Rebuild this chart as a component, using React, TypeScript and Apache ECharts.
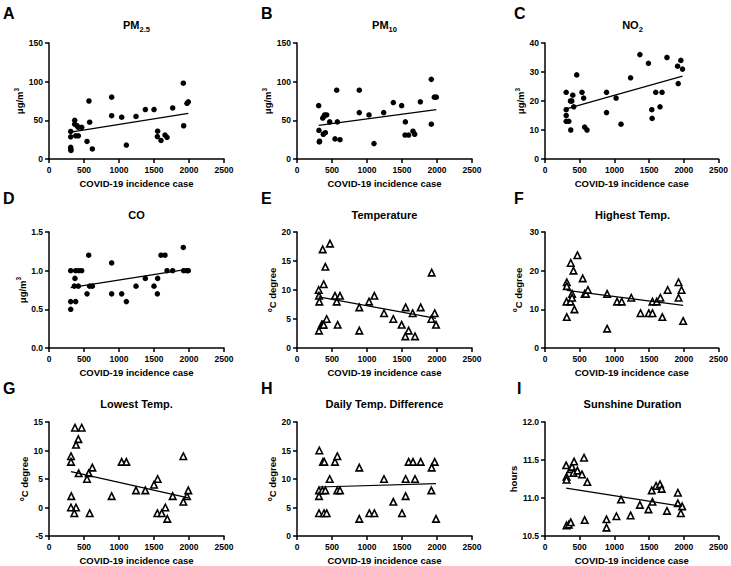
import React, { useEffect, useRef } from "react";
import * as echarts from "echarts";

const FONT = "'Liberation Sans', Arial, Helvetica, sans-serif";

const xMin = 0;
const xMax = 2500;
const xInterval = 500;
const xName = "COVID-19 incidence case";

const letters = ["A", "B", "C", "D", "E", "F", "G", "H", "I"];
const titles = ["{m|PM}{sub|2.5}", "{m|PM}{sub|10}", "{m|NO}{sub|2}", "{m|CO}", "{m|Temperature}", "{m|Highest Temp.}", "{m|Lowest Temp.}", "{m|Daily Temp. Difference}", "{m|Sunshine Duration}"];
const yNames = ["{m|μg/m}{sup|3}", "{m|μg/m}{sup|3}", "{m|μg/m}{sup|3}", "{m|μg/m}{sup|3}", "{sup|o}{m|C degree}", "{sup|o}{m|C degree}", "{sup|o}{m|C degree}", "{sup|o}{m|C degree}", "{m|hours}"];
const yMins = [0, 0, 0, 0, 0, 0, -5, 0, 10.5];
const yMaxs = [150, 150, 40, 1.5, 20, 30, 15, 20, 12.0];
const yIntervals = [50, 50, 10, 0.5, 5, 10, 5, 5, 0.5];
const yDecimals = [0, 0, 0, 1, 0, 0, 0, 0, 1];
const markers = ["circle", "circle", "circle", "circle", "triangle", "triangle", "triangle", "triangle", "triangle"];

const pm25Points = [[310,35.6],[310,28.7],[310,15],[310,13],[314,11],[367,50],[367,45],[400,43],[419,41],[467,41],[381,30],[419,30],[543,22.7],[571,75],[581,47.6],[619,13],[895,80],[895,56],[1038,54],[1105,18],[1243,55],[1376,64],[1500,64],[1552,36],[1548,29],[1600,24],[1657,31],[1686,28],[1767,66],[1919,98],[1924,43],[1971,72],[1990,74]];
const pm10Points = [[310,69],[314,37],[319,22],[322,23],[367,53],[386,55],[395,57],[424,57],[376,32],[405,34],[467,48],[543,26],[567,89],[576,48],[614,25],[890,89],[890,60],[1029,57],[1100,20],[1238,60],[1376,73],[1495,69],[1548,48],[1543,31],[1595,31],[1657,36],[1681,32],[1762,74],[1919,103],[1919,45],[1962,80],[1990,80]];
const no2Points = [[305,23],[305,17],[305,15],[305,13],[343,13],[367,20],[386,20],[371,10],[400,22],[414,18],[457,29],[533,23],[557,21],[571,11],[605,10],[886,23],[886,16],[1024,21],[1095,12],[1233,28],[1367,36],[1490,33],[1538,17],[1543,14],[1595,23],[1657,18],[1686,23],[1757,35],[1910,32],[1919,26],[1957,34],[1981,31]];
const coPoints = [[310,1.0],[310,0.6],[310,0.5],[362,0.8],[371,0.9],[381,1.0],[381,0.6],[419,0.8],[428,1.0],[467,1.0],[543,0.7],[567,1.2],[581,0.8],[619,0.8],[895,1.1],[895,0.7],[1038,0.7],[1105,0.6],[1243,0.8],[1376,0.9],[1500,0.8],[1552,0.9],[1548,0.7],[1600,1.2],[1657,1.2],[1686,1.0],[1767,1.0],[1919,1.3],[1924,1.0],[1971,1.0],[1990,1.0]];
const tempPoints = [[310,10],[314,9],[319,8],[314,3],[352,4],[367,4],[381,4],[367,17],[381,11],[405,14],[424,5],[471,18],[543,9],[567,8],[581,4],[614,9],[890,7],[890,3],[1029,8],[1105,9],[1243,6],[1376,5],[1495,4],[1552,7],[1548,2],[1595,3],[1652,6],[1686,2],[1767,7],[1924,13],[1919,5],[1967,6],[1986,4]];
const highTempPoints = [[314,17],[314,16],[310,12],[314,8],[367,12],[371,22],[390,14],[390,13],[410,20],[424,10],[467,24],[543,18],[571,14],[590,14],[619,15],[895,14],[895,5],[1038,12],[1105,12],[1243,13],[1376,9],[1495,9],[1548,9],[1548,12],[1610,12],[1662,13],[1690,8],[1767,15],[1924,17],[1924,13],[1967,15],[1990,7]];
const lowTempPoints = [[314,9],[314,8],[319,2],[314,0],[371,14],[467,14],[419,12],[386,11],[424,6],[386,0],[362,-1],[543,5],[567,6],[619,7],[581,-1],[895,2],[1038,8],[1105,8],[1243,3],[1376,3],[1500,4],[1552,5],[1548,-1],[1610,-1],[1662,0],[1690,-2],[1767,2],[1919,9],[1919,1],[1971,2],[1990,3]];
const diffTempPoints = [[319,15],[314,8],[314,7],[314,4],[371,13],[390,13],[362,8],[405,8],[386,4],[424,4],[467,10],[543,13],[576,14],[576,8],[614,8],[890,12],[890,3],[1033,4],[1105,4],[1243,10],[1376,6],[1500,4],[1552,10],[1552,7],[1595,13],[1657,13],[1686,10],[1767,13],[1924,12],[1919,8],[1967,13],[1986,3]];
const sunPoints = [[305,11.43],[310,11.28],[310,11.24],[310,10.64],[343,10.65],[371,10.68],[367,11.38],[390,11.41],[410,11.33],[419,11.48],[467,11.36],[533,11.31],[562,11.53],[571,10.71],[610,11.21],[886,10.72],[886,10.61],[1029,10.76],[1095,10.98],[1233,10.77],[1367,10.91],[1490,10.85],[1538,11.10],[1548,10.95],[1600,11.16],[1657,11.18],[1681,11.12],[1757,10.83],[1914,11.07],[1914,10.93],[1957,10.80],[1976,10.89]];

const pm25Trend = [[310,34.7],[1990,59]];
const pm10Trend = [[310,43.5],[1990,63.8]];
const no2Trend = [[305,17.3],[1981,28.6]];
const coTrend = [[310,0.78],[1990,1.02]];
const tempTrend = [[310,8.8],[1986,5.1]];
const highTempTrend = [[314,14.9],[1990,11.0]];
const lowTempTrend = [[314,6.3],[1990,1.7]];
const diffTempTrend = [[319,8.6],[1986,9.2]];
const sunTrend = [[305,11.13],[1976,10.89]];

const allPoints = [pm25Points, pm10Points, no2Points, coPoints, tempPoints, highTempPoints, lowTempPoints, diffTempPoints, sunPoints];
const allTrends = [pm25Trend, pm10Trend, no2Trend, coTrend, tempTrend, highTempTrend, lowTempTrend, diffTempTrend, sunTrend];

// layout
const colLefts = [49, 297, 545];
const rowTops = [43, 232, 422];
const plotW = 175;
const plotH = 116;
const titleYs = [25, 215, 404];
const letterXs = [3, 261, 514];
const letterYs = [13, 198, 388];
const yNameGaps = [18, 14, 13, 18, 17, 20, 12, 16, 22];

export default function App() {
  const ref = useRef<HTMLDivElement>(null);
  useEffect(() => {
    if (!ref.current) return;
    const chart = echarts.init(ref.current, null, { renderer: "svg" });
    const grids: any[] = [];
    const xAxes: any[] = [];
    const yAxes: any[] = [];
    const series: any[] = [];
    const graphics: any[] = [];
    const axisLine = { show: true, onZero: false, lineStyle: { color: "#000", width: 1.5 } };
    const axisTick = { show: true, length: 4, lineStyle: { color: "#000", width: 1.5 } };
    for (let i = 0; i < 9; i++) {
      const r = Math.floor(i / 3);
      const c = i % 3;
      grids.push({ left: colLefts[c], top: rowTops[r], width: plotW, height: plotH, containLabel: false });
      xAxes.push({
        type: "value", gridIndex: i, min: xMin, max: xMax, interval: xInterval,
        name: xName, nameLocation: "middle", nameGap: 19,
        nameTextStyle: { fontSize: 9.5, fontWeight: "bold", color: "#000", fontFamily: FONT },
        axisLine, axisTick,
        axisLabel: { fontSize: 8.5, fontWeight: "bold", color: "#000", margin: 6, fontFamily: FONT, formatter: (v: number) => String(v) },
        splitLine: { show: false },
      });
      const dec = yDecimals[i];
      yAxes.push({
        type: "value", gridIndex: i, min: yMins[i], max: yMaxs[i], interval: yIntervals[i],
        name: yNames[i], nameLocation: "middle", nameRotate: 90, nameGap: yNameGaps[i],
        nameTextStyle: {
          fontSize: 9.5, fontWeight: "bold", color: "#000", fontFamily: FONT,
          rich: {
            m: { fontSize: 9.5, fontWeight: "bold", color: "#000", fontFamily: FONT, lineHeight: 14, verticalAlign: "middle" },
            sup: { fontSize: 6.5, fontWeight: "bold", color: "#000", fontFamily: FONT, lineHeight: 14, verticalAlign: "top" },
          },
        },
        axisLine, axisTick,
        axisLabel: { fontSize: 8.5, fontWeight: "bold", color: "#000", margin: 6, fontFamily: FONT, formatter: (v: number) => v.toFixed(dec) },
        splitLine: { show: false },
      });
      const isTri = markers[i] === "triangle";
      series.push({
        type: "scatter", xAxisIndex: i, yAxisIndex: i, data: allPoints[i],
        symbol: markers[i], symbolSize: isTri ? 6.5 : 5.5,
        itemStyle: isTri ? { color: "#fff", borderColor: "#000", borderWidth: 1.6, opacity: 1 } : { color: "#000", opacity: 1 },
        z: 2,
      });
      series.push({
        type: "line", xAxisIndex: i, yAxisIndex: i, data: allTrends[i], symbol: "none",
        lineStyle: { color: "#000", width: 1.2 }, z: 3,
      });
      graphics.push({
        type: "text",
        style: {
          text: titles[i], x: colLefts[c] + plotW / 2, y: titleYs[r], align: "center", verticalAlign: "middle",
          fontSize: 11, fontWeight: "bold", fontFamily: FONT, fill: "#000",
          rich: {
            m: { fontSize: 11, fontWeight: "bold", fontFamily: FONT, fill: "#000", lineHeight: 16, verticalAlign: "middle" },
            sub: { fontSize: 7.5, fontWeight: "bold", fontFamily: FONT, fill: "#000", lineHeight: 16, verticalAlign: "bottom" },
          },
        },
      });
      graphics.push({
        type: "text",
        style: {
          text: letters[i], x: letterXs[c] + (letters[i] === "I" ? 3 : 0), y: letterYs[r], align: "left", verticalAlign: "middle",
          fontSize: 16, fontWeight: "bold", fontFamily: FONT, fill: "#000",
        },
      });
    }
    chart.setOption({
      animation: false,
      backgroundColor: "#fff",
      grid: grids,
      xAxis: xAxes,
      yAxis: yAxes,
      series,
      graphic: graphics,
    });
    return () => chart.dispose();
  }, []);
  return <div ref={ref} style={{ position: "absolute", left: 0, top: 0, width: 731, height: 566 }} />;
}
